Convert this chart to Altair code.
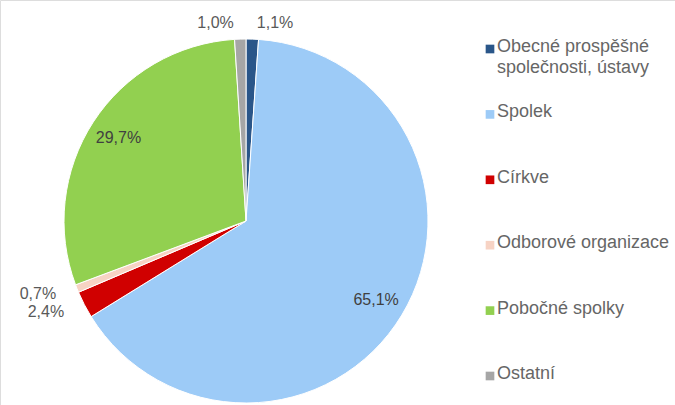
import altair as alt
import pandas as pd

categories = ["Obecné prospěšné společnosti, ústavy", "Spolek", "Církve",
              "Odborové organizace", "Pobočné spolky", "Ostatní"]
legend_labels = ["Obecné prospěšné\nspolečnosti, ústavy", "Spolek", "Církve",
                 "Odborové organizace", "Pobočné spolky", "Ostatní"]
values = [1.1, 65.1, 2.4, 0.7, 29.7, 1.0]
colors = ["#2A5689", "#9DCBF7", "#D00000", "#F7D3C4", "#92D050", "#A6A6A6"]
label_side = ["right", "inside", "left", "left", "inside", "left"]

df = pd.DataFrame({
    "cat": categories,
    "legend": legend_labels,
    "value": values,
    "idx": list(range(len(categories))),
    "side": label_side,
})

color = alt.Color("cat:N", scale=alt.Scale(domain=categories, range=colors), legend=None)
theta = alt.Theta("value:Q", stack=True)
order = alt.Order("idx:Q")
cx, cy = 246, 221

base = alt.Chart(df).transform_calculate(
    lab="replace(format(datum.value, '.1f'), '.', ',') + '%'"
)

pie = base.mark_arc(outerRadius=182, stroke="white", strokeWidth=1).encode(
    theta=theta, color=color, order=order,
    x=alt.value(cx), y=alt.value(cy)
)

inside = base.mark_text(radius=152, font="Liberation Sans", fontSize=16,
                        color="#404040").encode(
    theta=theta, order=order, text="lab:N", x=alt.value(cx), y=alt.value(cy),
    opacity=alt.condition("datum.side == 'inside'", alt.value(1), alt.value(0))
)

left = base.mark_text(radius=198, dx=-6, font="Liberation Sans", fontSize=16,
                      color="#595959", align="right").encode(
    theta=theta, order=order, text="lab:N", x=alt.value(cx), y=alt.value(cy),
    opacity=alt.condition("datum.side == 'left'", alt.value(1), alt.value(0))
)

right = base.mark_text(radius=198, dx=4, font="Liberation Sans", fontSize=16,
                       color="#595959", align="left").encode(
    theta=theta, order=order, text="lab:N", x=alt.value(cx), y=alt.value(cy),
    opacity=alt.condition("datum.side == 'right'", alt.value(1), alt.value(0))
)

yleg = alt.Y("cat:N", sort=categories,
             scale=alt.Scale(type="point", range=[49, 376], padding=0), axis=None)

leg_sym = alt.Chart(df).mark_square(size=75, opacity=1).encode(
    y=yleg, x=alt.value(490), color=color
)
leg_txt = alt.Chart(df).mark_text(align="left", baseline="top", dy=-11,
                                  lineBreak="\n", lineHeight=21,
                                  font="Liberation Sans", fontSize=18,
                                  color="#666666").encode(
    y=yleg, x=alt.value(497), text="legend:N"
)

chart = alt.layer(pie, inside, left, right, leg_sym, leg_txt).properties(
    width=675, height=405, padding=0,
    autosize=alt.AutoSizeParams(type="none")
).configure_view(stroke=None).configure(background="white")

chart.save("out.html", embed_options={"renderer": "svg", "actions": False})
